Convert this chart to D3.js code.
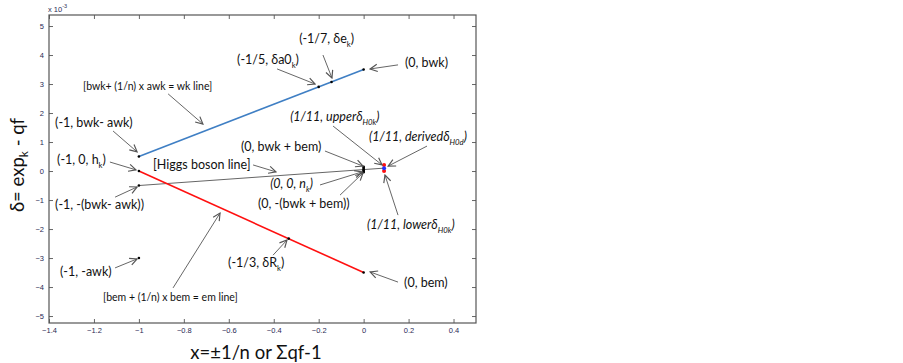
<!DOCTYPE html>
<html>
<head>
<meta charset="utf-8">
<script src="https://cdn.jsdelivr.net/npm/d3@7"></script>
<style>
body { margin:0; background:white; }
text { font-family: Lato, "Open Sans", sans-serif; }
</style>
</head>
<body>
<svg id="chart" width="903" height="363"></svg>
<script>
// values in units of 1e-3
let x_ticks = [-1.4,-1.2,-1,-0.8,-0.6,-0.4,-0.2,0,0.2,0.4]
let y_ticks = [-5,-4,-3,-2,-1,0,1,2,3,4,5]

let wk_line = [[-1,0.5],[0,3.5]]
let em_line = [[-1,0],[0,-3.5]]
let higgs_line = [[-1,-0.5],[1/11,0.1]]

let black_points = [[-1,0.5],[-0.2,2.9],[-1/7,3.07],[0,3.5],[-1,0],[-1/3,-2.33],[0,-3.5],[-1,-0.5],[-1,-3],
  [0,0.15],[0,0.11],[0,0.07],[0,0.03],[0,-0.01],[0,-0.04]]
let red_points = [[1/11,0.21],[1/11,0.0]]
let blue_points = [[1/11,0.1]]

// label: [x, y] left/middle of text, arrow: tail -> head, all in data units
let annotations = [
  {parts:[["(-1/7, δe"],["k",1],[")"]], at:[-0.287,4.55], from:[-0.181,4.0], to:[-0.141,3.21]},
  {parts:[["(-1/5, δa0"],["k",1],[")"]], at:[-0.563,3.83], from:[-0.385,3.52], to:[-0.216,3.0]},
  {parts:[["(0, bwk)"]], at:[0.184,3.73], from:[0.153,3.66], to:[0.029,3.52]},
  {parts:[["[bwk+ (1/n) x awk = wk line]"]], at:[-1.249,2.93], from:[-0.870,2.66], to:[-0.715,1.62], small:1},
  {parts:[["(-1, bwk- awk)"]], at:[-1.373,1.66], from:[-1.115,1.38], to:[-1.008,0.66]},
  {parts:[["(-1, 0, h"],["k",1],[")"]], at:[-1.364,0.38], from:[-1.129,0.31], to:[-1.013,0.04]},
  {parts:[["[Higgs boson line]"]], at:[-0.937,0.21], from:[-0.492,0.21], to:[-0.390,-0.03]},
  {parts:[["(0, bwk + bem)"]], at:[-0.546,0.83], from:[-0.172,0.69], to:[-0.003,0.17]},
  {parts:[["(1/11, upperδ"],["H0k",1],[")"]], at:[-0.327,1.86], from:[-0.136,1.55], to:[0.082,0.21], italic:1},
  {parts:[["(1/11, derivedδ"],["H0d",1],[")"]], at:[0.024,1.17], from:[0.282,0.86], to:[0.109,0.17], italic:1},
  {parts:[["(-1, -(bwk- awk))"]], at:[-1.373,-1.17], from:[-1.106,-0.90], to:[-1.008,-0.55]},
  {parts:[["(-1, -awk)"]], at:[-1.351,-3.48], from:[-1.106,-3.34], to:[-1.008,-3.03]},
  {parts:[["[bem + (1/n) x bem = em line]"]], at:[-1.160,-4.34], from:[-0.848,-4.03], to:[-0.639,-1.45], small:1},
  {parts:[["(-1/3, δR"],["k",1],[")"]], at:[-0.603,-3.17], from:[-0.403,-2.90], to:[-0.341,-2.38]},
  {parts:[["(0, bem)"]], at:[0.180,-3.86], from:[0.153,-3.83], to:[0.029,-3.48]},
  {parts:[["(0, 0, n"],["k",1],[")"]], at:[-0.416,-0.44], from:[-0.194,-0.48], to:[-0.007,-0.03], italic:1},
  {parts:[["(0, -(bwk + bem))"]], at:[-0.470,-1.12], from:[-0.105,-0.83], to:[-0.003,-0.07]},
  {parts:[["(1/11, lowerδ"],["H0k",1],[")"]], at:[0.015,-1.86], from:[0.153,-1.52], to:[0.095,-0.14], italic:1}
]

let svg = d3.select('#chart')

let x = d3.scaleLinear().domain([-1.4,0.5]).range([49,476])
let y = d3.scaleLinear().domain([-5.24,5.38]).range([323,15])

svg.append('defs').append('marker')
.attr('id','arr')
.attr('viewBox','0 0 10 10')
.attr('refX',9).attr('refY',5)
.attr('markerWidth',9).attr('markerHeight',9)
.attr('markerUnits','userSpaceOnUse')
.attr('orient','auto')
.append('path')
.attr('d','M1,1 L9,5 L1,9')
.attr('fill','none')
.attr('stroke','#555')
.attr('stroke-width',1.3)

let tickColor = '#2a2a55'

function styleAxis(g){
  g.select('.domain').remove()
  g.selectAll('.tick line').attr('stroke','#666')
  g.selectAll('.tick text').attr('fill',tickColor).style('font-family','Arial, "Liberation Sans", sans-serif').style('font-size','7.5px')
}

svg.append('g').attr('transform','translate(0,323)')
.call(d3.axisBottom(x).tickValues(x_ticks).tickSize(-4).tickPadding(5).tickFormat(d3.format('')))
.call(styleAxis)

svg.append('g').attr('transform','translate(0,15)')
.call(d3.axisTop(x).tickValues(x_ticks).tickSize(-4).tickFormat(''))
.call(styleAxis)

svg.append('g').attr('transform','translate(49,0)')
.call(d3.axisLeft(y).tickValues(y_ticks).tickSize(-4).tickPadding(5).tickFormat(d3.format('')))
.call(styleAxis)

svg.append('g').attr('transform','translate(476,0)')
.call(d3.axisRight(y).tickValues(y_ticks).tickSize(-4).tickFormat(''))
.call(styleAxis)

svg.append('rect')
.attr('x',49).attr('y',15)
.attr('width',476-49).attr('height',323-15)
.attr('fill','none')
.attr('stroke','#555')
.attr('stroke-width',1.2)

// x 10^-3
let ex = svg.append('text')
.attr('x',48).attr('y',12)
.attr('fill',tickColor)
.style('font-family','Arial, "Liberation Sans", sans-serif')
.style('font-size','7.5px')
ex.append('tspan').text('x 10')
ex.append('tspan').attr('dy',-4).style('font-size','5.5px').text('-3')

let line = d3.line().x(d=>x(d[0])).y(d=>y(d[1]))

svg.append('path').datum(higgs_line).attr('d',line)
.attr('stroke','#666').attr('stroke-width',1).attr('fill','none')

svg.append('path').datum(wk_line).attr('d',line)
.attr('stroke','#3f7fc4').attr('stroke-width',1.6).attr('fill','none')

svg.append('path').datum(em_line).attr('d',line)
.attr('stroke','#ff1010').attr('stroke-width',1.6).attr('fill','none')

svg.selectAll('.bp').data(black_points).enter().append('circle')
.attr('class','bp')
.attr('cx',d=>x(d[0])).attr('cy',d=>y(d[1]))
.attr('r',1.3).attr('fill','black')

svg.selectAll('.rp').data(red_points).enter().append('circle')
.attr('class','rp')
.attr('cx',d=>x(d[0])).attr('cy',d=>y(d[1]))
.attr('r',2).attr('fill','#ff1010')

svg.selectAll('.blp').data(blue_points).enter().append('circle')
.attr('class','blp')
.attr('cx',d=>x(d[0])).attr('cy',d=>y(d[1]))
.attr('r',2).attr('fill','#2030ff')

// annotations
annotations.forEach((a) => {

svg.append('line')
.attr('x1',x(a.from[0])).attr('y1',y(a.from[1]))
.attr('x2',x(a.to[0])).attr('y2',y(a.to[1]))
.attr('stroke','#555').attr('stroke-width',0.9)
.attr('marker-end','url(#arr)')

let fs = a.small ? 10.5 : 12.5
let t = svg.append('text')
.attr('x',x(a.at[0])).attr('y',y(a.at[1]) + fs*0.35)
.attr('fill','#111')
.style('font-size',fs+'px')
.style('font-style',a.italic ? 'italic' : 'normal')

let shifted = false
a.parts.forEach((p) => {
  let ts = t.append('tspan').text(p[0])
  if (p[1]){
    ts.attr('dy',4).style('font-size',(fs*0.62)+'px')
    shifted = true
  }
  else if (shifted){
    ts.attr('dy',-4)
    shifted = false
  }
})

})

// axis titles
svg.append('text')
.attr('x',256).attr('y',359)
.attr('text-anchor','middle')
.attr('fill','#111')
.style('font-size','18.5px')
.text('x=±1/n or Σqf-1')

let yl = svg.append('text')
.attr('transform','translate(24,165) rotate(-90)')
.attr('text-anchor','middle')
.attr('fill','#111')
.style('font-size','18.5px')
yl.append('tspan').text('δ= exp')
yl.append('tspan').attr('dy',4).style('font-size','12px').text('k')
yl.append('tspan').attr('dy',-4).text(' - qf')

</script>
</body>
</html>
